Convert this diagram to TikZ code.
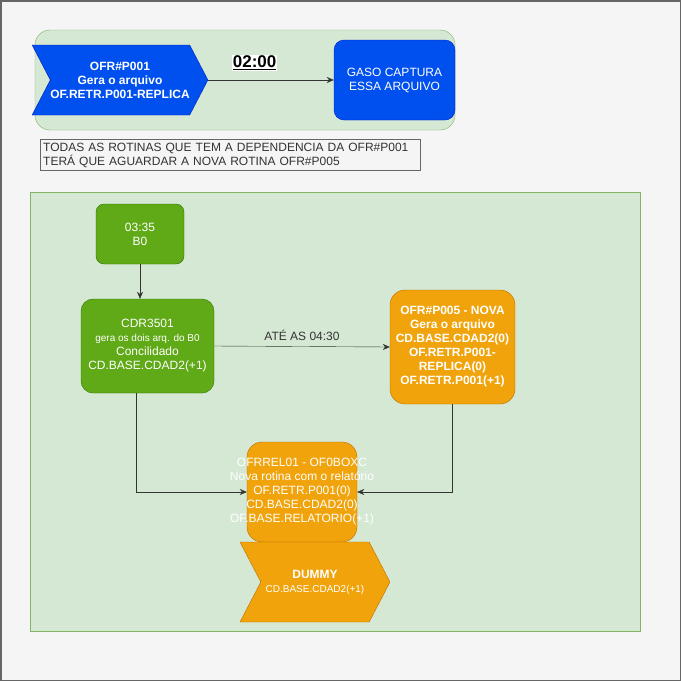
\documentclass[tikz,border=0pt]{standalone}
\usepackage{fontspec}
\setmainfont{Liberation Sans}
\usetikzlibrary{shapes.symbols,arrows.meta}
\definecolor{pagefill}{HTML}{F5F5F5}
\definecolor{pageline}{HTML}{666666}
\definecolor{areafill}{HTML}{D5E8D4}
\definecolor{arealine}{HTML}{82B366}
\definecolor{bluefill}{HTML}{0050EF}
\definecolor{blueline}{HTML}{001DBC}
\definecolor{greenfill}{HTML}{60A917}
\definecolor{greenline}{HTML}{2D7600}
\definecolor{orangefill}{HTML}{F0A30A}
\definecolor{orangeline}{HTML}{BD7000}
\definecolor{notetext}{HTML}{333333}
\begin{document}
\begin{tikzpicture}[x=1pt, y=-1pt,
    every node/.style = {align=center, font=\fontsize{12}{14}\selectfont},
    area/.style = {draw=arealine, fill=areafill, minimum width=#1},
    stepbox/.style = {shape=signal, signal from=west, signal to=east,
      signal pointer angle=125, inner sep=0pt},
    jobbox/.style = {shape=rectangle, rounded corners=#1, text=white},
    bluejob/.style = {draw=blueline, fill=bluefill, text=white},
    greenjob/.style = {draw=greenline, fill=greenfill, text=white},
    orangejob/.style = {draw=orangeline, fill=orangefill, text=white},
    flow/.style = {draw=black!80, -{Stealth[length=7pt, width=6pt]}}]
  % page and containers
  \useasboundingbox (0,0) rectangle (681,681);
  \draw[draw=pageline, fill=pagefill, line width=1.5pt] (0.75,0.75) rectangle (680.25,680.25);
  \node[area=420, minimum height=100, rounded corners=15] (top) at (245,80) {};
  \node[area=610, minimum height=439] (main) at (335,411.5) {};

  % top part
  \node[stepbox, bluejob, minimum width=170, minimum height=70] (p001) at (120,80)
    {\bfseries OFR\#P001\\ \bfseries Gera o arquivo\\ \bfseries OF.RETR.P001-REPLICA};
  \node[jobbox=10, bluejob, minimum width=121, minimum height=80] (gaso) at (394.5,80)
    {GASO CAPTURA\\ESSA ARQUIVO};
  \draw[flow] (p001.east) -- node[pos=0.37, above=9pt, fill=white, inner sep=1pt,
      font=\fontsize{17}{19}\selectfont\bfseries] {\underline{02:00}} (gaso.west);
  \node[draw=pageline, fill=pagefill, text=notetext, align=left, anchor=west,
      text width=374, minimum height=30, inner xsep=3pt] (aviso) at (40,155)
    {TODAS AS ROTINAS QUE TEM A DEPENDENCIA DA OFR\#P001\\
     TERÁ QUE AGUARDAR A NOVA ROTINA OFR\#P005};

  % main flow
  \node[jobbox=8, greenjob, minimum width=88, minimum height=60] (b0) at (140,234)
    {03:35\\B0};
  \node[jobbox=12, greenjob, minimum width=133, minimum height=94] (cdr) at (147.5,346)
    {CDR3501\\ {\fontsize{10}{13}\selectfont gera os dois arq. do B0}\\
     Concilidado\\ CD.BASE.CDAD2(+1)};
  \node[jobbox=15, orangejob, minimum width=125, minimum height=114] (p005) at (452.5,347)
    {\bfseries OFR\#P005 - NOVA\\ \bfseries Gera o arquivo\\ \bfseries CD.BASE.CDAD2(0)\\
     \bfseries OF.RETR.P001-\\ \bfseries REPLICA(0)\\ \bfseries OF.RETR.P001(+1)};
  \node[jobbox=15, orangejob, minimum width=110, minimum height=100,
      inner xsep=-22pt] (rel) at (302,492)
    {OFRREL01 - OF0BOXC\\ Nova rotina com o relatório\\ OF.RETR.P001(0)\\
     CD.BASE.CDAD2(0)\\ OF.BASE.RELATORIO(+1)};
  \node[stepbox, orangejob, minimum width=150, minimum height=80] (dummy) at (315,582)
    {\bfseries DUMMY\\ {\fontsize{10}{14}\selectfont CD.BASE.CDAD2(+1)}};

  % connectors
  \draw[flow] (b0.south) -- (b0.south |- cdr.north);
  \draw[flow] (cdr.east) -- node[above=2pt, text=notetext] {ATÉ AS 04:30} (p005.west);
  \draw[flow] ([xshift=-11.5pt]cdr.south) |- (rel.west);
  \draw[flow] (p005.south) |- (rel.east);
\end{tikzpicture}
\end{document}
